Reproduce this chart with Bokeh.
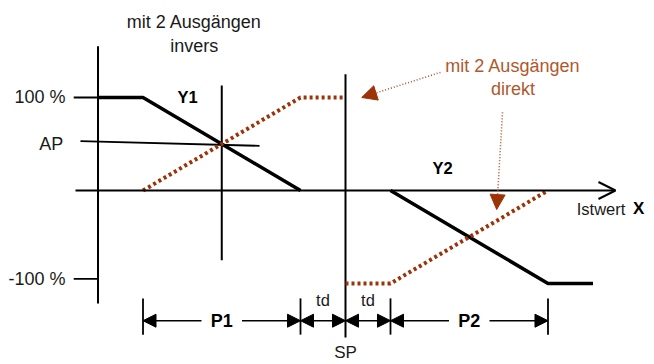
from bokeh.plotting import figure
from bokeh.models import Range1d, Arrow, NormalHead, OpenHead
from bokeh.core.properties import value
from bokeh.embed import file_html
from bokeh.resources import INLINE

# ---- data (x: Istwert in units of td, SP = 0 ; y: output in %) ----
sp = 0.0
td = 1.0
p1 = 3.5
p2 = 3.5
y_top = 100.0
y_bot = -100.0

# characteristic curves
y1_x = [-5.5, sp - td - p1, sp - td]
y1_y = [y_top, y_top, 0]
y1d_x = [sp - td - p1, sp - td, sp]
y1d_y = [0, y_top, y_top]
y2_x = [sp + td, sp + td + p2, 5.5]
y2_y = [0, y_bot, y_bot]
y2d_x = [sp, sp + td, sp + td + p2]
y2d_y = [y_bot, y_bot, 0]

# AP line (slightly sloped in original)
ap_x = [-5.89, -1.91]
ap_y = [53, 48]

# axis tick labels
tick_labels = ["100 %", "AP", "-100 %"]
tick_values = [100, 50.5, -95]

dim_y = -140
FONT = "Liberation Sans"
BROWN = "#9c3306"
BROWN_TXT = "#b0582c"

p = figure(width=654, height=364, output_backend="svg", toolbar_location=None,
           x_range=Range1d(-7.667, 6.867), y_range=Range1d(-187.1, 204.3),
           x_axis_type=None, y_axis_type=None, min_border=0)
p.grid.visible = False
p.outline_line_color = None
p.background_fill_color = "white"

# y axis
p.line([-5.5, -5.5], [155, -121.5], line_color="black", line_width=2)
p.line([-6.04, -5.5], [100, 100], line_color="black", line_width=1.8)
p.line([-6.04, -5.5], [-95, -95], line_color="black", line_width=1.8)
# x axis with open arrow
p.add_layout(Arrow(x_start=-6, y_start=0, x_end=6, y_end=0, line_width=2,
                   end=OpenHead(size=17, line_width=2, line_color="black")))
# AP line and vertical lines
p.line(ap_x, ap_y, line_color="black", line_width=1.8)
p.line([-2.75, -2.75], [113, -75], line_color="black", line_width=2)
p.line([sp, sp], [125, -158], line_color="black", line_width=2)

# curves
p.line(y1_x, y1_y, line_color="black", line_width=3.5)
p.line(y2_x, y2_y, line_color="black", line_width=3.5)
p.line(y1d_x, y1d_y, line_color=BROWN, line_width=4, line_dash="3 3")
p.line(y2d_x, y2d_y, line_color=BROWN, line_width=4, line_dash="3 3")

# dimension ticks
for xv in [sp - td - p1, sp - td, sp + td, sp + td + p2]:
    p.line([xv, xv], [-116, -155], line_color="black", line_width=1.8)

gap = 0.45
c1 = sp - td - p1 / 2
c2 = sp + td + p2 / 2
def harrow(xs, xe, both=False):
    a = Arrow(x_start=xs, y_start=dim_y, x_end=xe, y_end=dim_y, line_width=1.5,
              end=NormalHead(size=13, fill_color="black", line_color="black"),
              start=NormalHead(size=13, fill_color="black", line_color="black") if both else None)
    p.add_layout(a)
harrow(c1 - gap, sp - td - p1)
harrow(c1 + gap, sp - td)
harrow(sp - td, sp, both=True)
harrow(sp, sp + td, both=True)
harrow(c2 - gap, sp + td)
harrow(c2 + gap, sp + td + p2)

# annotation arrows (dotted, brown)
p.add_layout(Arrow(x_start=2.11, y_start=127, x_end=0.36, y_end=100,
                   line_color=BROWN_TXT, line_width=1.6, line_dash="1 2",
                   end=NormalHead(size=15, fill_color=BROWN, line_color=BROWN)))
p.add_layout(Arrow(x_start=3.49, y_start=84, x_end=3.36, y_end=-20.5,
                   line_color=BROWN_TXT, line_width=1.6, line_dash="1 2",
                   end=NormalHead(size=15, fill_color=BROWN, line_color=BROWN)))

f = value(FONT)
p.text([-6.22, -6.27, -6.22], tick_values, text=tick_labels, text_font=f,
       text_font_size="18px", text_align="right", text_baseline="middle", text_color="#1a1a1a")
p.text([-3.36, -3.36], [181, 155], text=["mit 2 Ausgängen", "invers"], text_font=f,
       text_font_size="18px", text_align="center", text_baseline="middle", text_color="#1a1a1a")
p.text([3.72, 3.72], [134, 109], text=["mit 2 Ausgängen", "direkt"], text_font=f,
       text_font_size="18px", text_align="center", text_baseline="middle", text_color=BROWN_TXT)
p.text([-3.51, 2.16], [100, 23.7], text=["Y1", "Y2"], text_font=f, text_font_style="bold",
       text_font_size="16.5px", text_align="center", text_baseline="middle", text_color="black")
p.text([5.14], [-19.4], text=["Istwert"], text_font=f, text_font_size="16.5px",
       text_align="left", text_baseline="middle", text_color="#1a1a1a")
p.text([6.64], [-19.4], text=["X"], text_font=f, text_font_size="17px", text_font_style="bold",
       text_align="right", text_baseline="middle", text_color="black")
p.text([c1, c2], [dim_y, dim_y], text=["P1", "P2"], text_font=f, text_font_style="bold",
       text_font_size="18px", text_align="center", text_baseline="middle", text_color="black")
p.text([sp - td / 2, sp + td / 2], [-118, -118], text=["td", "td"], text_font=f,
       text_font_size="16.5px", text_align="center", text_baseline="middle", text_color="#1a1a1a")
p.text([sp], [-174.5], text=["SP"], text_font=f, text_font_size="17px",
       text_align="center", text_baseline="middle", text_color="#1a1a1a")

open("out.html", "w").write(file_html(p, INLINE))
